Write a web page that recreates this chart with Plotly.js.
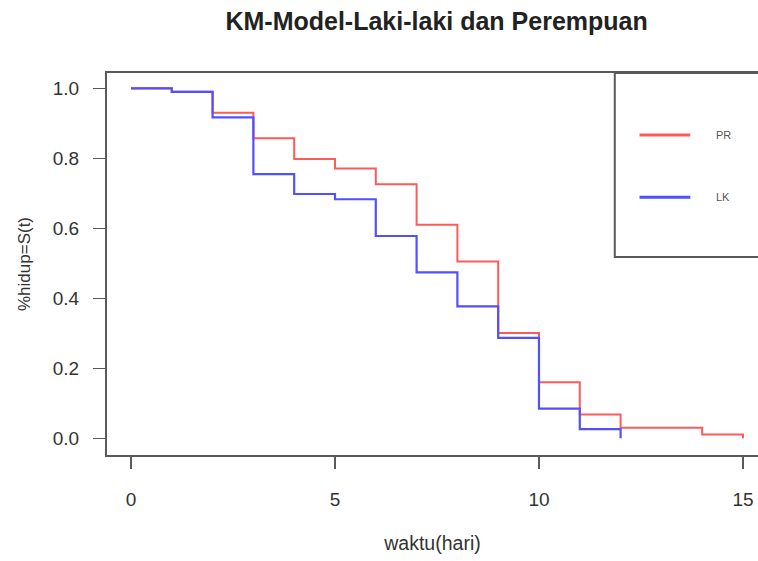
<!DOCTYPE html>
<html>
<head>
<meta charset="utf-8">
<script src="https://cdn.plot.ly/plotly-3.0.1.min.js"></script>
<style>html,body{margin:0;padding:0;background:#fff;}#chart{width:758px;height:561px;}</style>
</head>
<body>
<div id="chart"></div>
<script>
// Kaplan-Meier survival estimates
const timePR = [0, 1, 2, 3, 4, 5, 6, 7, 8, 9, 10, 11, 12, 14, 15];
const survPR = [1.0, 0.99, 0.93, 0.857, 0.798, 0.771, 0.726, 0.61, 0.505, 0.301, 0.16, 0.068, 0.03, 0.011, 0.0];
const timeLK = [0, 1, 2, 3, 4, 5, 6, 7, 8, 9, 10, 11, 12];
const survLK = [1.0, 0.99, 0.917, 0.755, 0.698, 0.683, 0.578, 0.474, 0.377, 0.287, 0.085, 0.026, 0.0];
const seriesNames = ['PR', 'LK'];
const seriesColors = ['#ff5a5a', '#5050ff'];
const xTicks = [0, 5, 10, 15];
const yTicks = [0.0, 0.2, 0.4, 0.6, 0.8, 1.0];
const yTickText = ['0.0', '0.2', '0.4', '0.6', '0.8', '1.0'];

const traces = [
  {x: timePR, y: survPR, name: seriesNames[0], type: 'scatter', mode: 'lines',
   line: {shape: 'hv', color: seriesColors[0], width: 2}},
  {x: timeLK, y: survLK, name: seriesNames[1], type: 'scatter', mode: 'lines',
   line: {shape: 'hv', color: seriesColors[1], width: 2.2}}
];

const axisColor = '#5a5a5a';
const textColor = '#333333';
const fontFam = 'Liberation Sans, Arial, sans-serif';

// legend drawn as a box with key lines
const legendShapes = [
  {type: 'rect', xref: 'paper', yref: 'paper', x0: 0.78, x1: 1.05, y0: 0.518, y1: 1.0,
   line: {color: axisColor, width: 2}, fillcolor: 'rgba(0,0,0,0)'}
];
const legendAnn = [];
const legendY = [0.838, 0.675];
seriesNames.forEach((n, i) => {
  legendShapes.push({type: 'line', xref: 'paper', yref: 'paper', x0: 0.818, x1: 0.896,
    y0: legendY[i], y1: legendY[i], line: {color: seriesColors[i], width: 3}});
  legendAnn.push({xref: 'paper', yref: 'paper', x: 0.932, y: legendY[i], text: n,
    showarrow: false, xanchor: 'left', yanchor: 'middle',
    font: {size: 11, color: '#555', family: fontFam}});
});

const layout = {
  width: 758, height: 561,
  margin: {l: 107, r: 0, t: 73, b: 106},
  paper_bgcolor: '#fff', plot_bgcolor: '#fff',
  showlegend: false,
  font: {family: fontFam, color: textColor},
  title: {text: '<b>KM-Model-Laki-laki dan Perempuan</b>', x: 0.576, xanchor: 'center', y: 0.962, yanchor: 'middle',
          font: {size: 25, color: '#222', family: fontFam}},
  xaxis: {range: [-0.588, 15.368], tickvals: xTicks, ticktext: xTicks.map(String),
          showgrid: false, zeroline: false, showline: true, mirror: true,
          linecolor: axisColor, linewidth: 2, ticks: 'outside', ticklen: 12, tickwidth: 1.5,
          tickcolor: axisColor, ticklabelstandoff: 14,
          tickfont: {size: 19, color: textColor},
          title: {text: 'waktu(hari)', font: {size: 19.5, color: textColor}, standoff: 28}},
  yaxis: {range: [-0.0477, 1.0437], tickvals: yTicks, ticktext: yTickText,
          showgrid: false, zeroline: false, showline: true, mirror: false,
          linecolor: axisColor, linewidth: 2, ticks: 'outside', ticklen: 12, tickwidth: 1.5,
          tickcolor: axisColor, ticklabelstandoff: 10,
          tickfont: {size: 19, color: textColor},
          title: {text: '%hidup=S(t)', font: {size: 17, color: textColor}, standoff: 18}},
  shapes: legendShapes,
  annotations: legendAnn
};

Plotly.newPlot('chart', traces, layout, {displayModeBar: false, staticPlot: true});
</script>
</body>
</html>
